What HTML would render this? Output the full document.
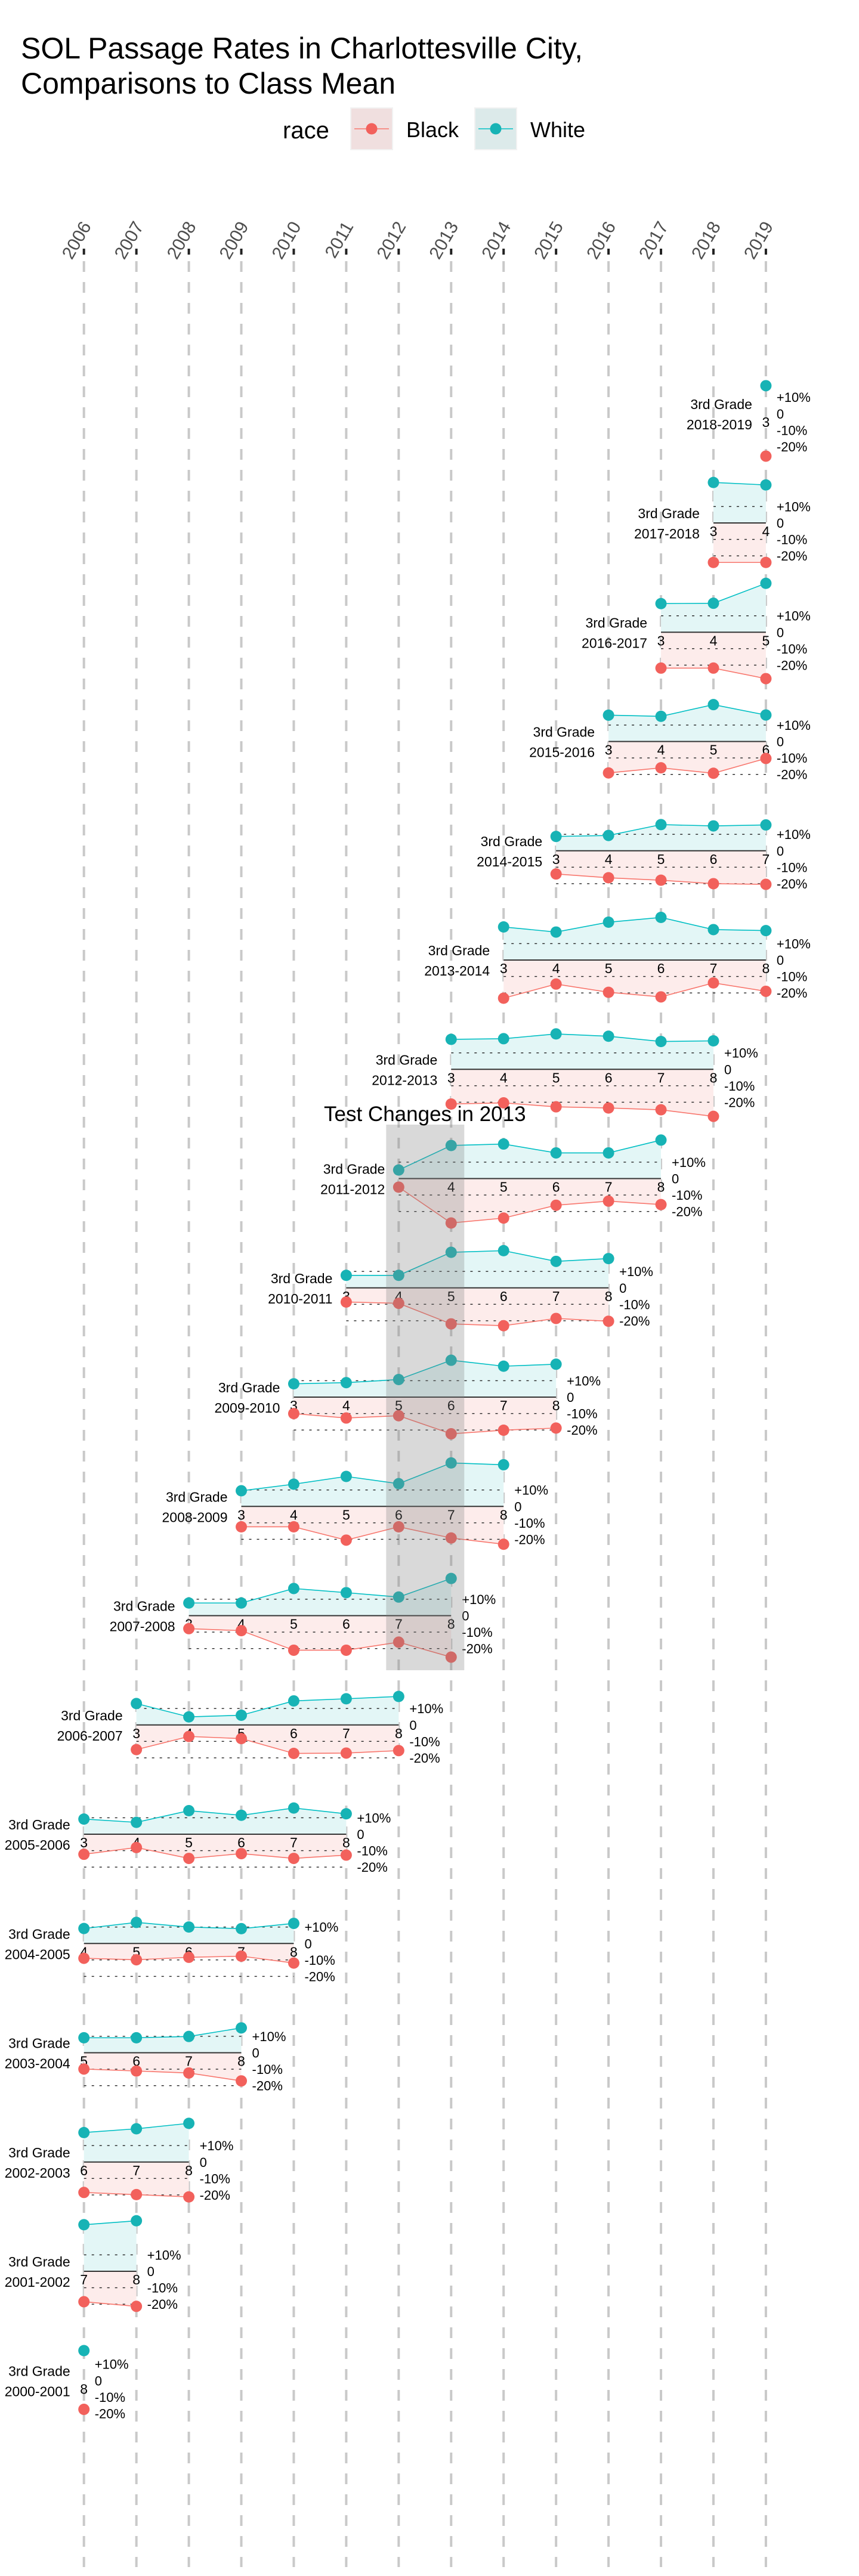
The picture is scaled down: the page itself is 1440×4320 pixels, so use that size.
<!DOCTYPE html>
<html><head><meta charset="utf-8"><title>SOL Passage Rates</title>
<style>
html,body{margin:0;padding:0;background:#fff;}
svg{display:block;font-family:"Liberation Sans",Arial,sans-serif;}
</style></head>
<body>
<svg id="chart" width="1440" height="4320" viewBox="0 0 1440 4320" xmlns="http://www.w3.org/2000/svg">
  <rect width="1440" height="4320" fill="#ffffff"/>
  <text x="35" y="98" font-size="50" fill="#000">SOL Passage Rates in Charlottesville City,</text>
  <text x="35" y="157" font-size="50" fill="#000">Comparisons to Class Mean</text>
  <g>
    <text x="474" y="232" font-size="40" fill="#000">race</text>
    <g>
      <rect x="588" y="181" width="70" height="70" fill="#f0dfdf" stroke="#f2f2f2" stroke-width="2"/>
      <line x1="594" y1="216" x2="652" y2="216" stroke="#F8766D" stroke-width="1.5"/>
      <circle cx="623" cy="216" r="9.5" fill="#f2615c"/>
      <text x="681" y="230" font-size="36" fill="#000">Black</text>
    </g>
    <g>
      <rect x="796" y="181" width="70" height="70" fill="#dceaea" stroke="#f2f2f2" stroke-width="2"/>
      <line x1="802" y1="216" x2="860" y2="216" stroke="#00BFC4" stroke-width="1.5"/>
      <circle cx="831" cy="216" r="9.5" fill="#17b3b5"/>
      <text x="889" y="230" font-size="36" fill="#000">White</text>
    </g>
  </g>
  <g id="grid"></g>
  <g id="panels"></g>
  <g id="overlay"></g>
</svg>
<script>
// ---- data ----
const years = [2006,2007,2008,2009,2010,2011,2012,2013,2014,2015,2016,2017,2018,2019];
const cohortStarts = [2018,2017,2016,2015,2014,2013,2012,2011,2010,2009,2008,2007,2006,2005,2004,2003,2002,2001,2000];
const whiteVals = [
  [17],
  [24.6,23.1],
  [17.4,17.6,29.7],
  [16,15.3,22.4,16.1],
  [8.7,9.3,15.9,15.1,15.7],
  [20.1,17,23,25.9,18.5,17.9],
  [18.2,18.6,21.5,20.1,16.9,17.3],
  [5.2,20.1,21,15.6,15.6,23.4],
  [7.6,7.6,21.6,22.6,16.1,17.8],
  [8.1,8.8,10.7,22.4,18.8,20],
  [9.5,13.5,18.2,13.8,26.4,25.3],
  [7.7,7.7,16.5,14,11.3,22.6],
  [13,4.9,5.9,14.6,15.9,17.3],
  [9.2,7.2,14.3,11.5,15.9,12.4],
  [9.1,12.8,10,9,12.2],
  [9.1,9.1,9.9,15.1],
  [17.9,20.2,23.5],
  [28.3,30.7],
  [18.2]
];
const blackVals = [
  [-25.8],
  [-24,-24],
  [-21.8,-21.8,-28.2],
  [-19.1,-16,-19.3,-10.3],
  [-14.1,-16.4,-17.9,-20,-20.4],
  [-23.2,-14.6,-19.6,-22.4,-13.9,-19],
  [-21.1,-20.4,-22.8,-23.5,-24.6,-28.6],
  [-5.2,-27,-24,-16.2,-13.7,-15.8],
  [-8.6,-9.4,-21.9,-23,-18.6,-20.3],
  [-10,-12.7,-11.3,-22.3,-20.1,-18.8],
  [-12.4,-12.4,-20.5,-12.4,-19.2,-23],
  [-7.9,-9.1,-21,-21,-16.1,-25.2],
  [-15,-7,-8.3,-17.3,-17.1,-15.6],
  [-12.2,-8.1,-14.7,-11.8,-14.7,-12.7],
  [-9,-9.9,-8.4,-7.7,-11.9],
  [-9.9,-11.1,-12.3,-17.1],
  [-18.5,-19.8,-21.2],
  [-18.5,-21.3],
  [-17.5]
];
const refLevels = [10,0,-10,-20];
const refLabels = ["+10%","0","-10%","-20%"];
const testChangeYear = 2013;
const testChangeLabel = "Test Changes in 2013";

// ---- scales ----
const NS = "http://www.w3.org/2000/svg";
function xYear(y){ return 140.7 + (y-2006)*87.94; }
function panelZero(start){ return 877 + (2017-start)*183.25; }
function yVal(zero,v){ return zero - v*2.76; }
function mk(tag, attrs, parent){
  const e = document.createElementNS(NS, tag);
  for (const k in attrs) e.setAttribute(k, attrs[k]);
  parent.appendChild(e);
  return e;
}

// ---- grid ----
const grid = document.getElementById('grid');
years.forEach(function(yr){
  const x = xYear(yr);
  const ln = mk('line',{x1:x,y1:438,x2:x,y2:4305,stroke:'#c9c9c9','stroke-width':4,'stroke-dasharray':'18 17'},grid);
  
  
  const tk = mk('line',{x1:x,y1:417,x2:x,y2:427,stroke:'#222','stroke-width':4},grid);
  
  
  const t = mk('text',{transform:'translate('+(x+13)+',379) rotate(-60)','text-anchor':'end','font-size':30,fill:'#4d4d4d'},grid);
  t.textContent = yr;
  
  
});

// ---- panels ----
const panels = document.getElementById('panels');
cohortStarts.forEach(function(s, ci){
  const endYear = s+1;
  const firstGrade = Math.max(3, 3 + (2006 - endYear));
  const wv = whiteVals[ci], bv = blackVals[ci];
  const z = panelZero(s);
  const g = mk('g',{},panels);
  
  
  const xs = wv.map(function(_,i){ return xYear(endYear + (firstGrade+i) - 3); });
  const x0 = xs[0], x1 = xs[xs.length-1];
  function ribbon(vals, fill, name){
    let d = 'M'+x0+','+z;
    vals.forEach(function(v,i){ d += ' L'+xs[i]+','+yVal(z,v); });
    d += ' L'+x1+','+z+' Z';
    const p = mk('path',{d:d,fill:fill},g);
    
    
  }
  ribbon(wv,'#e3f6f6','white-ribbon');
  ribbon(bv,'#fdeceb','black-ribbon');
  refLevels.forEach(function(lv, li){
    const y = yVal(z, lv);
    if (x1 > x0) {
      const l = mk('line',{x1:x0,y1:y,x2:x1,y2:y,stroke: lv===0?'#333':'#222','stroke-width': lv===0?2:1.4,'stroke-dasharray': lv===0?'none':'4 9'},g);
      
      
    }
    const t = mk('text',{x:x1+18,y:y+8,'font-size':22,fill:'#000'},g);
    t.textContent = refLabels[li];
    
    
  });
  xs.forEach(function(x,i){
    const t = mk('text',{x:x,y:z+22,'text-anchor':'middle','font-size':23,fill:'#000'},g);
    t.textContent = firstGrade+i;
    
    
  });
  const l1 = mk('text',{x:x0-23,y:z-8,'text-anchor':'end','font-size':23,fill:'#000'},g);
  l1.textContent = '3rd Grade';
  
  
  const l2 = mk('text',{x:x0-23,y:z+26,'text-anchor':'end','font-size':23,fill:'#000'},g);
  l2.textContent = s+'-'+endYear;
  
  
  function series(vals, stroke, dot, name){
    const pts = vals.map(function(v,i){ return xs[i]+','+yVal(z,v); }).join(' ');
    if (vals.length > 1) {
      const pl = mk('polyline',{points:pts,fill:'none',stroke:stroke,'stroke-width':1.6},g);
      
      
    }
    vals.forEach(function(v,i){
      const c = mk('circle',{cx:xs[i],cy:yVal(z,v),r:9.5,fill:dot},g);
      
      
    });
  }
  series(wv,'#00BFC4','#17b3b5','white');
  series(bv,'#F8766D','#f2615c','black');
});

// ---- test change annotation ----
const ov = document.getElementById('overlay');
const bx = xYear(testChangeYear - 1) - 21, bw = xYear(testChangeYear) + 22 - bx;
const box = mk('rect',{x:bx,y:1886,width:bw,height:915,fill:'#808080','fill-opacity':0.3},ov);


const tt = mk('text',{x:(xYear(testChangeYear-1)+xYear(testChangeYear))/2,y:1880,'text-anchor':'middle','font-size':35,fill:'#000'},ov);
tt.textContent = testChangeLabel;


</script>
</body></html>
